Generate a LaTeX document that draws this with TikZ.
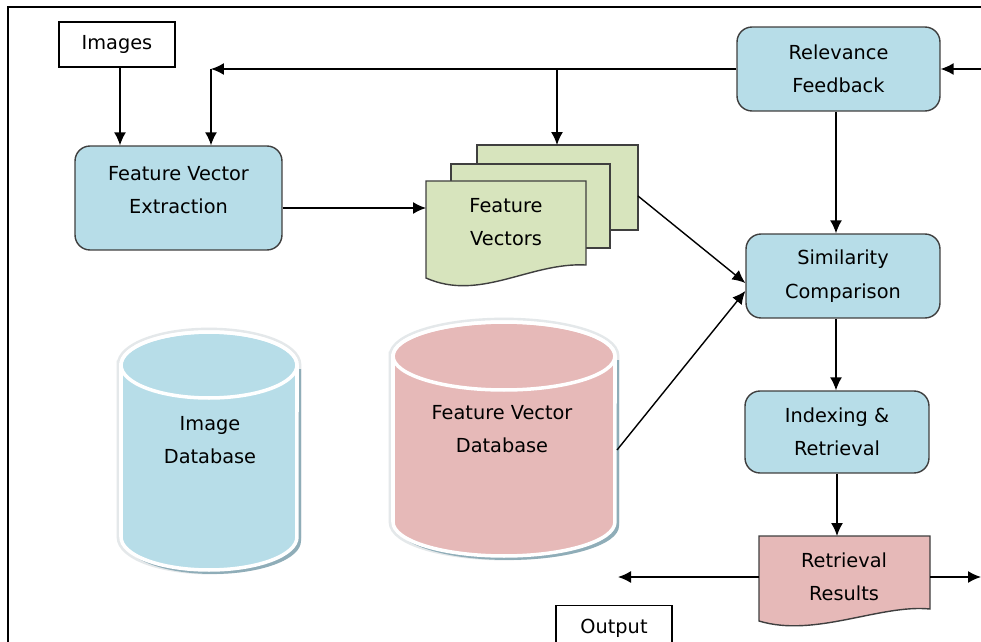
\documentclass[tikz,border=0pt]{standalone}
\usepackage{fontspec}
\setmainfont{DejaVu Sans}
\usetikzlibrary{arrows.meta}
\definecolor{boxblue}{HTML}{B7DDE8}
\definecolor{docgreen}{HTML}{D7E4BD}
\definecolor{docpink}{HTML}{E6B9B8}
\definecolor{edgegray}{HTML}{3F3F3F}
\definecolor{cylshadow}{HTML}{8FADB8}
\definecolor{halo}{HTML}{E4E8EA}
\tikzset{
  txt/.style={font=\fontsize{11}{19}\selectfont},
  proc/.style={txt, draw=edgegray, fill=boxblue, rounded corners=0.3cm, line width=0.8pt, align=center, inner sep=0pt},
  plainbox/.style={txt, draw=black, fill=white, line width=0.8pt, minimum width=2.32cm, minimum height=0.9cm, inner sep=0pt},
  arr/.style={-{Latex[length=0.26cm,width=0.24cm]}, line width=0.8pt},
  doc/.style={draw=edgegray, line width=0.8pt},
  lbl/.style={txt, align=center, inner sep=0pt},
  cylbody/.style={draw=white, line width=2pt},
}
\begin{document}
\begin{tikzpicture}[x=0.02cm,y=-0.02cm]
\useasboundingbox (0,0) rectangle (981,642);
\clip (0,0) rectangle (981,642);
\fill[white] (0,0) rectangle (981,642);
% frame
\draw[line width=1pt] (8,660) -- (8,7) -- (995,7);

% process boxes
\node[plainbox] (images) at (117,44.5) {Images};
\node[proc, minimum width=4.14cm, minimum height=2.08cm,
      label={[lbl, yshift=0.16cm]center:Feature Vector\\Extraction}] (fve) at (178.5,198) {};
\node[proc, minimum width=4.06cm, minimum height=1.68cm] (rf) at (838.5,69) {Relevance\\Feedback};
\node[proc, minimum width=3.88cm, minimum height=1.68cm] (sc) at (843,276) {Similarity\\Comparison};
\node[proc, minimum width=3.68cm, minimum height=1.64cm] (ir) at (837,432) {Indexing \&\\Retrieval};
\node[plainbox] (output) at (614,628) {Output};

% feature vectors (stacked documents)
\draw[doc, fill=docgreen] (477,145) rectangle (638,230);
\draw[doc, fill=docgreen] (451,164) rectangle (610,248);
\draw[doc, fill=docgreen] (426,181) -- (586,181) -- (586,265)
   .. controls (530,262) and (480,302) .. (426,278) -- cycle;
\node[lbl] (fvtext) at (506,222) {Feature\\Vectors};
\coordinate (fvin) at (426,208);
\coordinate (fvtop) at (557,145);
\coordinate (fvout) at (638,196);

% retrieval results (document)
\draw[doc, fill=docpink] (759,536) -- (930,536) -- (930,609)
   .. controls (880,604) and (815,638) .. (759,621) -- cycle;
\node[lbl] (rrtext) at (844,577) {Retrieval\\Results};
\coordinate (rrtop) at (837,536);
\coordinate (rrl) at (759,577);
\coordinate (rrr) at (930,577);

% image database cylinder
\draw[halo, line width=5pt] (121,365) -- (121,537)
   arc[start angle=180, end angle=360, x radius=1.76cm, y radius=0.66cm]
   -- (297,365) arc[start angle=0, end angle=180, x radius=1.76cm, y radius=0.66cm] -- cycle;
\fill[cylshadow] (301,369) -- (301,541) arc[start angle=0, end angle=-180, x radius=1.76cm, y radius=0.66cm] -- (125,369) -- cycle;
\draw[cylbody, fill=boxblue] (121,365) -- (121,537)
   arc[start angle=180, end angle=360, x radius=1.76cm, y radius=0.66cm]
   -- (297,365) arc[start angle=0, end angle=180, x radius=1.76cm, y radius=0.66cm] -- cycle;
\draw[cylbody] (209,365) ellipse [x radius=1.76cm, y radius=0.66cm];
\node[lbl] (imgdb) at (210,440) {Image\\Database};

% feature vector database cylinder
\draw[halo, line width=5pt] (393,356) -- (393,522)
   arc[start angle=180, end angle=360, x radius=2.22cm, y radius=0.68cm]
   -- (615,356) arc[start angle=0, end angle=180, x radius=2.22cm, y radius=0.68cm] -- cycle;
\fill[cylshadow] (619,360) -- (619,526) arc[start angle=0, end angle=-180, x radius=2.22cm, y radius=0.68cm] -- (397,360) -- cycle;
\draw[cylbody, fill=docpink] (393,356) -- (393,522)
   arc[start angle=180, end angle=360, x radius=2.22cm, y radius=0.68cm]
   -- (615,356) arc[start angle=0, end angle=180, x radius=2.22cm, y radius=0.68cm] -- cycle;
\draw[cylbody] (504,356) ellipse [x radius=2.22cm, y radius=0.68cm];
\node[lbl] (fvdb) at (502,429) {Feature Vector\\Database};
\coordinate (fvdbr) at (617,450);

% connectors
\coordinate (fbcorner) at (211,69);
\coordinate (fvtap) at (557,69);
\coordinate (rfin) at (990,69);
\coordinate (rrend) at (618,577);
\coordinate (rrendr) at (981,577);

\draw[arr] (images.south -| 120,0) -- (fve.north -| 120,0);
\draw[arr] (rf.west) -- (fbcorner);
\draw[arr] (fbcorner) -- (fbcorner |- fve.north);
\draw[arr] (fvtap) -- (fvtop);
\draw[arr] (rfin) -- (rf.east);
\draw[arr] (fve.east |- fvin) -- (fvin);
\draw[arr] (fvout) -- ([yshift=-0.14cm]sc.west);
\draw[arr] (fvdbr) -- ([yshift=-0.3cm]sc.west);
\draw[arr] (rf.south -| 836,0) -- (sc.north -| 836,0);
\draw[arr] (sc.south -| 836,0) -- (ir.north -| 836,0);
\draw[arr] (ir.south -| rrtop) -- (rrtop);
\draw[arr] (rrl) -- (rrend);
\draw[arr] (rrr) -- (rrendr);
\end{tikzpicture}
\end{document}
